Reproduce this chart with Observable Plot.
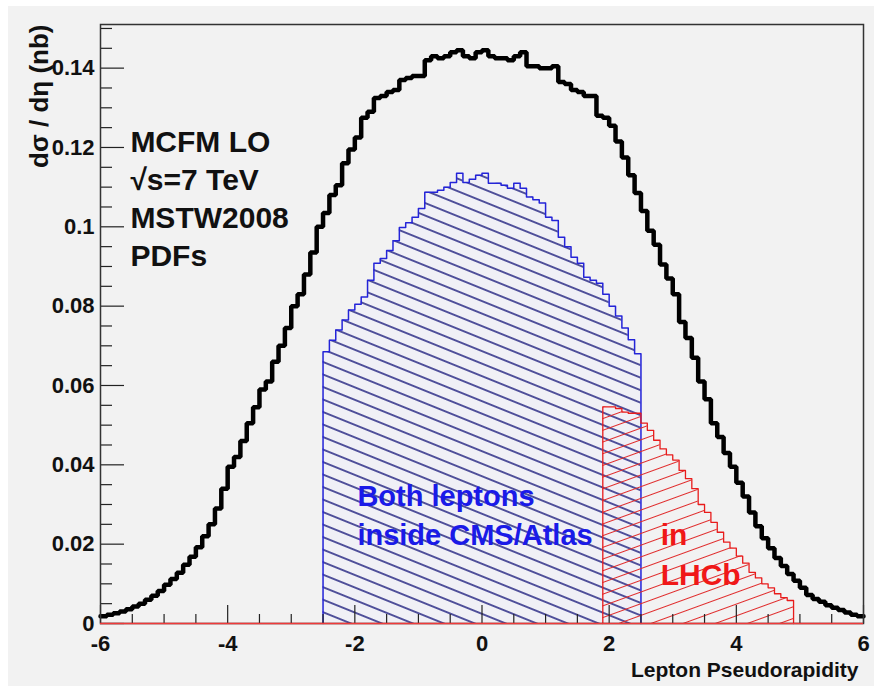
<!DOCTYPE html>
<html><head><meta charset="utf-8">
<script src="https://cdn.jsdelivr.net/npm/d3@7"></script>
<script src="https://cdn.jsdelivr.net/npm/@observablehq/plot@0.6"></script>
<style>
body{margin:0;background:#fff;width:874px;height:693px;overflow:hidden;font-family:"Liberation Sans",Arial,sans-serif}
#bg{position:absolute;left:8px;top:6px;width:866px;height:680px;background:#f2f2f2}
#chart{position:absolute;left:0;top:0}
</style></head><body><div id="bg"></div><div id="chart"></div>
<script>
// ---- data ----
const binWidth = 0.1;
const allStart = -6;
const allValues = [
0.0018,0.0022,0.0026,0.0030,0.0036,0.0043,0.0050,0.0060,0.0070,0.0082,
0.0098,0.0112,0.0128,0.0148,0.0168,0.0192,0.0220,0.0250,0.0290,0.0340,
0.0395,0.0420,0.0460,0.0505,0.0545,0.0590,0.0610,0.0660,0.0700,0.0745,
0.0800,0.0830,0.0880,0.0935,0.1000,0.1035,0.1080,0.1105,0.1160,0.1195,
0.1225,0.1275,0.1290,0.1325,0.1330,0.1340,0.1345,0.1370,0.1375,0.1380,
0.1380,0.1420,0.1430,0.1425,0.1430,0.1440,0.1445,0.1430,0.1425,0.1440,
0.1445,0.1430,0.1425,0.1425,0.1420,0.1430,0.1440,0.1405,0.1405,0.1400,
0.1400,0.1405,0.1365,0.1360,0.1345,0.1340,0.1330,0.1330,0.1280,0.1275,
0.1255,0.1215,0.1175,0.1130,0.1085,0.1040,0.0990,0.0955,0.0905,0.0870,
0.0830,0.0760,0.0720,0.0670,0.0610,0.0565,0.0505,0.0470,0.0430,0.0395,
0.0355,0.0320,0.0280,0.0245,0.0215,0.0190,0.0165,0.0145,0.0125,0.0108,
0.0090,0.0072,0.0062,0.0055,0.0046,0.0040,0.0034,0.0028,0.0022,0.0018];
const cmsStart = -2.5;
const cmsValues = [
0.0685,0.0714,0.0740,0.0765,0.0790,0.0805,0.0823,0.0865,0.0908,0.0920,
0.0940,0.0965,0.0998,0.1010,0.1024,0.1046,0.1087,0.1087,0.1092,0.1100,
0.1112,0.1135,0.1112,0.1120,0.1130,0.1135,0.1110,0.1110,0.1105,0.1097,
0.1110,0.1097,0.1075,0.1068,0.1060,0.1024,0.1016,0.0974,0.0950,0.0923,
0.0908,0.0873,0.0865,0.0858,0.0830,0.0800,0.0775,0.0745,0.0715,0.0680];
const lhcbStart = 1.9;
const lhcbValues = [
0.0546,0.0546,0.0542,0.0533,0.0530,0.0530,0.0505,0.0487,0.0462,0.0440,
0.0425,0.0412,0.0386,0.0365,0.0340,0.0300,0.0280,0.0255,0.0230,0.0205,
0.0190,0.0170,0.0152,0.0129,0.0115,0.0100,0.0090,0.0075,0.0065,0.0058];
const xMajorTicks = [-6,-4,-2,0,2,4,6];
const xMajorLabels = ["-6","-4","-2","0","2","4","6"];
const xMinorTicks = [-5.5,-5,-4.5,-3.5,-3,-2.5,-1.5,-1,-0.5,0.5,1,1.5,2.5,3,3.5,4.5,5,5.5];
const yMajorTicks = [0,0.02,0.04,0.06,0.08,0.1,0.12,0.14];
const yMajorLabels = ["0","0.02","0.04","0.06","0.08","0.1","0.12","0.14"];
const yMinorTicks = [0.005,0.01,0.015,0.025,0.03,0.035,0.045,0.05,0.055,0.065,0.07,0.075,0.085,0.09,0.095,0.105,0.11,0.115,0.125,0.13,0.135,0.145,0.15];
const infoText = "MCFM LO\n√s=7 TeV\nMSTW2008\nPDFs";
const cmsText = "Both leptons\ninside CMS/Atlas";
const lhcbText = "in\nLHCb";
const xTitle = "Lepton Pseudorapidity";
const yTitle = "dσ / dη (nb)";

// ---- helpers ----
function steps(start, values, closed) {
  const pts = [];
  if (closed) pts.push({x: start, y: 0});
  values.forEach((v, i) => pts.push({x: start + i * binWidth, y: v}));
  const end = start + values.length * binWidth;
  pts.push({x: end, y: values[values.length - 1]});
  if (closed) pts.push({x: end, y: 0});
  return pts;
}
const W = 874, H = 693, mL = 100, mR = 11, mT = 24, mB = 70;
const pw = W - mL - mR, ph = H - mT - mB;
const font = "Liberation Sans, Arial, sans-serif";
const allPts = steps(allStart, allValues, false);
const cmsPts = steps(cmsStart, cmsValues, true);
const lhcbPts = steps(lhcbStart, lhcbValues, true);
const xLab = xMajorTicks.map((t, i) => ({t, s: xMajorLabels[i]}));
const yLab = yMajorTicks.map((t, i) => ({t, s: yMajorLabels[i]}));

const svg = Plot.plot({
  width: W, height: H,
  marginLeft: mL, marginRight: mR, marginTop: mT, marginBottom: mB,
  x: {domain: [-6, 6], axis: null},
  y: {domain: [0, 0.151], axis: null},
  style: {background: "transparent", overflow: "visible"},
  marks: [
    Plot.areaY(cmsPts, {x: "x", y: "y", curve: "step-after", fill: "url(#hatchBlue)"}),
    Plot.lineY(cmsPts, {x: "x", y: "y", curve: "step-after", stroke: "#2424d8", strokeWidth: 1.5}),
    Plot.areaY(lhcbPts, {x: "x", y: "y", curve: "step-after", fill: "url(#hatchRed)"}),
    Plot.lineY(lhcbPts, {x: "x", y: "y", curve: "step-after", stroke: "#e81c1c", strokeWidth: 1.3}),
    Plot.lineY(allPts, {x: "x", y: "y", curve: "step-after", stroke: "#000", strokeWidth: 4.5, strokeLinejoin: "miter"}),
    // inward ticks
    Plot.tickY(yMajorTicks, {y: d => d, insetRight: pw - 24, stroke: "#222", strokeWidth: 1.2}),
    Plot.tickY(yMinorTicks, {y: d => d, insetRight: pw - 12, stroke: "#222", strokeWidth: 1.2}),
    Plot.tickX(xMajorTicks, {x: d => d, insetTop: ph - 18, stroke: "#222", strokeWidth: 1.2}),
    Plot.tickX(xMinorTicks, {x: d => d, insetTop: ph - 9, stroke: "#222", strokeWidth: 1.2}),
    Plot.frame({stroke: "#333", strokeWidth: 1.5}),
    Plot.ruleY([0], {stroke: "#f03a3a", strokeWidth: 1.5}),
    // tick labels
    Plot.text(xLab, {x: "t", text: "s", frameAnchor: "bottom", lineAnchor: "top", dy: 12, fontSize: 22, fontWeight: "bold", fontFamily: font, fill: "#111"}),
    Plot.text(yLab, {y: "t", text: "s", frameAnchor: "left", textAnchor: "end", dx: -6, fontSize: 22, fontWeight: "bold", fontFamily: font, fill: "#111"}),
    // titles
    Plot.text([xTitle], {frameAnchor: "bottom-right", textAnchor: "end", lineAnchor: "bottom", dx: -5, dy: 53, fontSize: 21, fontWeight: "bold", fontFamily: font, fill: "#111"}),
    Plot.text([yTitle], {x: -6.82, y: 0.151, rotate: -90, textAnchor: "end", lineAnchor: "bottom", fontSize: 26, fontWeight: "bold", fontFamily: font, fill: "#111"}),
    // annotations
    Plot.text([infoText], {x: -5.53, y: 0.0902, textAnchor: "start", lineAnchor: "bottom", lineHeight: 1.267, fontSize: 30, fontWeight: "bold", fontFamily: font, fill: "#111"}),
    Plot.text([cmsText], {x: -1.96, y: 0.0199, textAnchor: "start", lineAnchor: "bottom", lineHeight: 1.345, fontSize: 29, fontWeight: "bold", fontFamily: font, fill: "#1a1ae8"}),
    Plot.text([lhcbText], {x: 2.81, y: 0.0096, textAnchor: "start", lineAnchor: "bottom", lineHeight: 1.333, fontSize: 30, fontWeight: "bold", fontFamily: font, fill: "#f01818"})
  ]
});
const ns = "http://www.w3.org/2000/svg";
const defs = document.createElementNS(ns, "defs");
defs.innerHTML =
  '<pattern id="hatchBlue" patternUnits="userSpaceOnUse" width="60" height="11.6" patternTransform="rotate(22)">' +
  '<rect x="0" y="0" width="60" height="11.6" fill="#eeeef8" fill-opacity="0.6"/>' +
  '<line x1="0" y1="5.8" x2="60" y2="5.8" stroke="#18187a" stroke-width="1.3"/></pattern>' +
  '<pattern id="hatchRed" patternUnits="userSpaceOnUse" width="60" height="11" patternTransform="rotate(-20)">' +
  '<line x1="0" y1="5.5" x2="60" y2="5.5" stroke="#e02a2a" stroke-width="1.1"/></pattern>';
svg.insertBefore(defs, svg.firstChild);
document.getElementById("chart").appendChild(svg);
</script></body></html>
